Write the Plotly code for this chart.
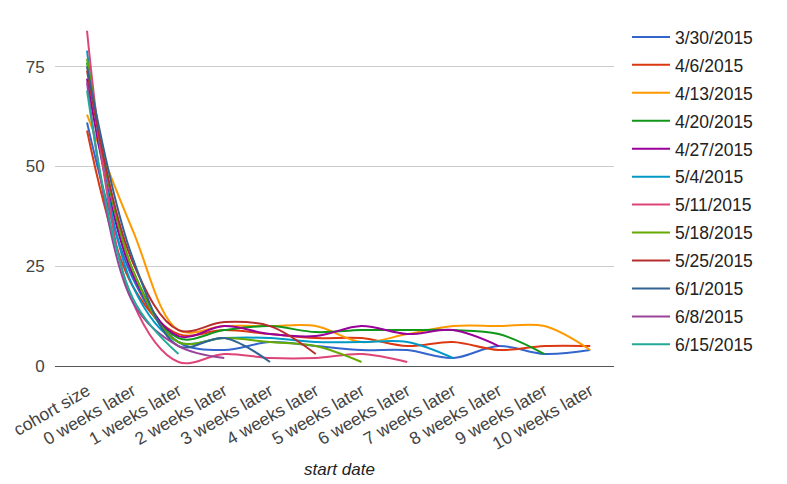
import plotly.graph_objects as go

categories = ["cohort size", "0 weeks later", "1 weeks later", "2 weeks later", "3 weeks later",
              "4 weeks later", "5 weeks later", "6 weeks later", "7 weeks later", "8 weeks later",
              "9 weeks later", "10 weeks later"]

series_names = ["3/30/2015", "4/6/2015", "4/13/2015", "4/20/2015", "4/27/2015", "5/4/2015",
                "5/11/2015", "5/18/2015", "5/25/2015", "6/1/2015", "6/8/2015", "6/15/2015"]

s_0330 = [61, 22, 6, 4, 6, 5, 4, 4, 2, 5, 3, 4]
s_0406 = [59, 20, 8, 9, 8, 7, 7, 5, 6, 4, 5, 5]
s_0413 = [63, 34, 9, 10, 10, 10, 6, 8, 10, 10, 10, 4]
s_0420 = [76, 24, 7, 9, 10, 8.5, 9, 9, 9, 8, 3]
s_0427 = [72, 23, 7.5, 10, 8, 7.5, 10, 8, 9, 5]
s_0504 = [79, 20, 6, 7, 7, 6, 6, 6, 2]
s_0511 = [84, 16, 1, 3, 2, 2, 3, 1]
s_0518 = [77, 24, 6, 7, 6, 5, 1]
s_0525 = [74, 26, 9, 11, 10, 3]
s_0601 = [75, 27, 5, 7, 1]
s_0608 = [71, 16, 5, 2]
s_0615 = [69, 17, 3]

all_series = [s_0330, s_0406, s_0413, s_0420, s_0427, s_0504,
              s_0511, s_0518, s_0525, s_0601, s_0608, s_0615]

colors = ["#3366cc", "#dc3912", "#ff9900", "#109618", "#990099", "#0099c6",
          "#dd4477", "#66aa00", "#b82e2e", "#316395", "#994499", "#22aa99"]

y_ticks = [0, 25, 50, 75]

fig = go.Figure()
for name, vals, col in zip(series_names, all_series, colors):
    fig.add_trace(go.Scatter(
        x=categories[:len(vals)], y=vals, name=name, mode="lines",
        line=dict(color=col, width=2, shape="spline", smoothing=1.0),
        legendgroup=name,
    ))

W, H = 779, 476
fig.update_layout(
    width=W, height=H,
    margin=dict(l=47, r=W - 606, t=0, b=H - 358),
    paper_bgcolor="white", plot_bgcolor="white",
    font=dict(family="Liberation Sans, Arial, sans-serif", size=17, color="#444444"),
    showlegend=True,
    legend=dict(
        xref="container", yref="container",
        x=619 / W, y=1 - 11 / H, xanchor="left", yanchor="top",
        font=dict(size=17.5, color="#222222"),
        tracegroupgap=2.2, itemwidth=38, maxheight=460,
        bgcolor="rgba(0,0,0,0)",
    ),
    xaxis=dict(
        type="category", categoryorder="array", categoryarray=categories,
        range=[-0.70, 11.52], tickangle=-30,
        showgrid=False, showline=True, linecolor="#555555", linewidth=1,
        ticks="outside", ticklen=7, tickcolor="rgba(0,0,0,0)",
        tickfont=dict(size=17.5, color="#444444"),
        automargin=False,
    ),
    yaxis=dict(
        range=[0, 89.7], tickvals=y_ticks, ticktext=[str(v) for v in y_ticks],
        showgrid=True, gridcolor="#cccccc", gridwidth=1,
        zeroline=True, zerolinecolor="#555555", zerolinewidth=1,
        ticks="outside", ticklen=6, tickcolor="rgba(0,0,0,0)",
        tickfont=dict(size=17, color="#444444"), automargin=False,
    ),
    annotations=[dict(
        text="start date", xref="paper", yref="paper",
        x=(331 - 47) / 559, y=(358 - 462) / 358, xanchor="center", yanchor="middle",
        showarrow=False, font=dict(size=17, color="#222222", style="italic"),
    )],
)

fig.write_html("out.html")
